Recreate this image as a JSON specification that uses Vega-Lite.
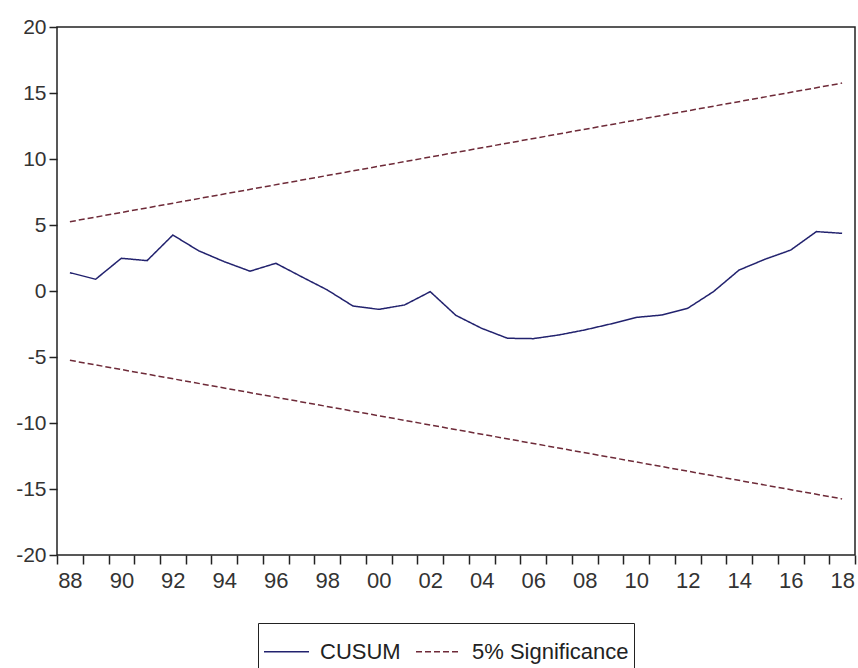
{
  "$schema": "https://vega.github.io/schema/vega-lite/v6.json",
  "width": 798,
  "height": 528,
  "autosize": "none",
  "padding": {"left": 57, "top": 27, "right": 3, "bottom": 113},
  "background": "white",
  "config": {
    "view": {"stroke": "#222222", "strokeWidth": 1.5},
    "axis": {"grid": false, "domain": false, "title": null, "tickColor": "#222222", "tickWidth": 1.5, "labelColor": "#333333"}
  },
  "datasets": {
    "series": [
      {"date": "1988-07-02T00:00:00", "value": 1.39, "series": "CUSUM", "line": "cusum"},
      {"date": "1989-07-02T00:00:00", "value": 0.89, "series": "CUSUM", "line": "cusum"},
      {"date": "1990-07-02T00:00:00", "value": 2.48, "series": "CUSUM", "line": "cusum"},
      {"date": "1991-07-02T00:00:00", "value": 2.30, "series": "CUSUM", "line": "cusum"},
      {"date": "1992-07-02T00:00:00", "value": 4.24, "series": "CUSUM", "line": "cusum"},
      {"date": "1993-07-02T00:00:00", "value": 3.05, "series": "CUSUM", "line": "cusum"},
      {"date": "1994-07-02T00:00:00", "value": 2.22, "series": "CUSUM", "line": "cusum"},
      {"date": "1995-07-02T00:00:00", "value": 1.50, "series": "CUSUM", "line": "cusum"},
      {"date": "1996-07-02T00:00:00", "value": 2.10, "series": "CUSUM", "line": "cusum"},
      {"date": "1997-07-02T00:00:00", "value": 1.08, "series": "CUSUM", "line": "cusum"},
      {"date": "1998-07-02T00:00:00", "value": 0.08, "series": "CUSUM", "line": "cusum"},
      {"date": "1999-07-02T00:00:00", "value": -1.14, "series": "CUSUM", "line": "cusum"},
      {"date": "2000-07-02T00:00:00", "value": -1.39, "series": "CUSUM", "line": "cusum"},
      {"date": "2001-07-02T00:00:00", "value": -1.06, "series": "CUSUM", "line": "cusum"},
      {"date": "2002-07-02T00:00:00", "value": -0.05, "series": "CUSUM", "line": "cusum"},
      {"date": "2003-07-02T00:00:00", "value": -1.85, "series": "CUSUM", "line": "cusum"},
      {"date": "2004-07-02T00:00:00", "value": -2.83, "series": "CUSUM", "line": "cusum"},
      {"date": "2005-07-02T00:00:00", "value": -3.58, "series": "CUSUM", "line": "cusum"},
      {"date": "2006-07-02T00:00:00", "value": -3.61, "series": "CUSUM", "line": "cusum"},
      {"date": "2007-07-02T00:00:00", "value": -3.33, "series": "CUSUM", "line": "cusum"},
      {"date": "2008-07-02T00:00:00", "value": -2.95, "series": "CUSUM", "line": "cusum"},
      {"date": "2009-07-02T00:00:00", "value": -2.50, "series": "CUSUM", "line": "cusum"},
      {"date": "2010-07-02T00:00:00", "value": -2.00, "series": "CUSUM", "line": "cusum"},
      {"date": "2011-07-02T00:00:00", "value": -1.82, "series": "CUSUM", "line": "cusum"},
      {"date": "2012-07-02T00:00:00", "value": -1.31, "series": "CUSUM", "line": "cusum"},
      {"date": "2013-07-02T00:00:00", "value": -0.05, "series": "CUSUM", "line": "cusum"},
      {"date": "2014-07-02T00:00:00", "value": 1.59, "series": "CUSUM", "line": "cusum"},
      {"date": "2015-07-02T00:00:00", "value": 2.40, "series": "CUSUM", "line": "cusum"},
      {"date": "2016-07-02T00:00:00", "value": 3.10, "series": "CUSUM", "line": "cusum"},
      {"date": "2017-07-02T00:00:00", "value": 4.50, "series": "CUSUM", "line": "cusum"},
      {"date": "2018-07-02T00:00:00", "value": 4.37, "series": "CUSUM", "line": "cusum"},
      {"date": "1988-07-02T00:00:00", "value": 5.25, "series": "5% Significance", "line": "upper"},
      {"date": "2018-07-02T00:00:00", "value": 15.75, "series": "5% Significance", "line": "upper"},
      {"date": "1988-07-02T00:00:00", "value": -5.25, "series": "5% Significance", "line": "lower"},
      {"date": "2018-07-02T00:00:00", "value": -15.75, "series": "5% Significance", "line": "lower"}
    ]
  },
  "layer": [
    {
      "mark": {"type": "rule", "color": "#111111", "strokeWidth": 1.8},
      "encoding": {"y": {"datum": 0, "type": "quantitative"}}
    },
    {
      "data": {"name": "series"},
      "mark": {"type": "line", "strokeWidth": 1.5, "clip": true},
      "encoding": {
        "x": {
          "field": "date",
          "type": "temporal",
          "scale": {"domain": [{"year": 1988, "month": 1, "date": 1}, {"year": 2019, "month": 1, "date": 1}], "nice": false},
          "axis": {
            "values": [
              {"year": 1988}, {"year": 1989}, {"year": 1990}, {"year": 1991}, {"year": 1992}, {"year": 1993}, {"year": 1994}, {"year": 1995},
              {"year": 1996}, {"year": 1997}, {"year": 1998}, {"year": 1999}, {"year": 2000}, {"year": 2001}, {"year": 2002}, {"year": 2003},
              {"year": 2004}, {"year": 2005}, {"year": 2006}, {"year": 2007}, {"year": 2008}, {"year": 2009}, {"year": 2010}, {"year": 2011},
              {"year": 2012}, {"year": 2013}, {"year": 2014}, {"year": 2015}, {"year": 2016}, {"year": 2017}, {"year": 2018}, {"year": 2019}
            ],
            "labelExpr": "(year(datum.value) % 2 == 0 && year(datum.value) <= 2018) ? timeFormat(datum.value, '%y') : ''",
            "labelOffset": 12.87,
            "labelOverlap": false,
            "labelFlush": false,
            "labelBound": false,
            "tickSize": 9,
            "labelPadding": 6,
            "labelFont": "Liberation Sans",
            "labelFontSize": 22
          }
        },
        "y": {
          "field": "value",
          "type": "quantitative",
          "scale": {"domain": [-20, 20], "nice": false, "zero": false},
          "axis": {
            "values": [-20, -15, -10, -5, 0, 5, 10, 15, 20],
            "labelExpr": "toString(datum.value)",
            "tickSize": 8,
            "labelPadding": 3,
            "labelFont": "Liberation Sans",
            "labelFontSize": 21
          }
        },
        "color": {
          "field": "series",
          "type": "nominal",
          "scale": {"domain": ["CUSUM", "5% Significance"], "range": ["#22226e", "#6e2a38"]},
          "legend": {
            "orient": "none",
            "legendX": 201,
            "legendY": 596,
            "direction": "horizontal",
            "title": null,
            "strokeColor": "#222222",
            "padding": 5,
            "symbolType": "stroke",
            "symbolSize": 2025,
            "symbolStrokeWidth": 1.5,
            "labelFont": "Liberation Sans",
            "labelFontSize": 22,
            "labelColor": "#222222",
            "labelLimit": 400,
            "columnPadding": 12,
            "labelOffset": 10
          }
        },
        "strokeDash": {
          "field": "series",
          "type": "nominal",
          "scale": {"domain": ["CUSUM", "5% Significance"], "range": [[1, 0], [6, 3]]},
          "legend": null
        },
        "detail": {"field": "line", "type": "nominal"}
      }
    }
  ]
}
